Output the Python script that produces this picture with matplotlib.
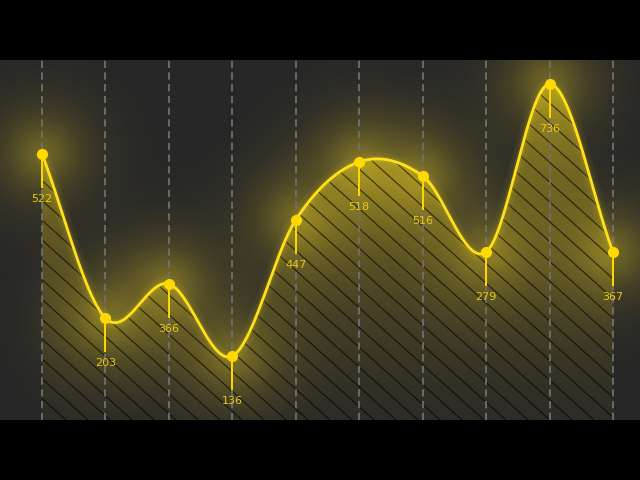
import numpy as np
import matplotlib
matplotlib.use('Agg')
import matplotlib.pyplot as plt
from matplotlib.patches import PathPatch
from matplotlib.path import Path
from matplotlib.collections import LineCollection

labels = [522, 203, 366, 136, 447, 518, 516, 279, 736, 367]
heights = [73.9, 28.3, 37.8, 17.8, 55.6, 71.7, 67.8, 46.7, 93.3, 46.7]

LINE = '#ffe11a'
DOT = '#ffd900'
TXT = '#e8c81c'


def catmull_rom(ys, n=60):
    ys = np.asarray(ys, float)
    xs = np.arange(len(ys), dtype=float)
    py = np.concatenate([[2 * ys[0] - ys[1]], ys, [2 * ys[-1] - ys[-2]]])
    ox, oy = [], []
    for i in range(len(ys) - 1):
        p0, p1, p2, p3 = py[i], py[i + 1], py[i + 2], py[i + 3]
        m1 = (p2 - p0) / 2.0
        m2 = (p3 - p1) / 2.0
        t = np.linspace(0, 1, n, endpoint=(i == len(ys) - 2))
        h00 = 2 * t**3 - 3 * t**2 + 1
        h10 = t**3 - 2 * t**2 + t
        h01 = -2 * t**3 + 3 * t**2
        h11 = t**3 - t**2
        oy.append(h00 * p1 + h10 * m1 + h01 * p2 + h11 * m2)
        ox.append(xs[i] + t)
    return np.concatenate(ox), np.concatenate(oy)


x = np.arange(len(heights))
xs, ys = catmull_rom(heights)

fig = plt.figure(figsize=(6.4, 4.8), dpi=100, facecolor='black')
ax = fig.add_axes([0, 0.125, 1, 0.75])
x0, x1 = -0.662, 9.426
ax.set_xlim(x0, x1)
ax.set_ylim(0, 100)
ax.axis('off')
ax.add_patch(plt.Rectangle((0, 0), 1, 1, transform=ax.transAxes,
                           facecolor='#272727', edgecolor='none', zorder=0))

# gradient fill under the curve
verts = np.column_stack([np.concatenate([xs, [xs[-1], xs[0]]]),
                         np.concatenate([ys, [0, 0]])])
path = Path(verts, closed=False)
clip = PathPatch(path, transform=ax.transData, facecolor='none', edgecolor='none')
ax.add_patch(clip)
gy = np.linspace(0, 1, 256)[:, None]
grad = np.zeros((256, 2, 4))
grad[..., 0] = 1.0
grad[..., 1] = 0.86
grad[..., 2] = 0.1
grad[..., 3] = (0.03 + 0.48 * gy ** 1.2) * np.ones((1, 2))
im = ax.imshow(grad, extent=[x0, x1, 0, 100], origin='lower', aspect='auto',
               zorder=1, interpolation='bilinear')
im.set_clip_path(clip)

# glow around points
gx = np.linspace(x0, x1, 640)
gyy = np.linspace(0, 100, 360)
GX, GY = np.meshgrid(gx, gyy)
glow = np.zeros_like(GX)
for xi, hi in zip(x, heights):
    dx = (GX - xi) * 63.44
    dy = (GY - hi) * 3.6
    r2 = dx ** 2 + dy ** 2
    glow += 0.5 * np.exp(-r2 / (2 * 20 ** 2)) + 0.6 * np.exp(-r2 / (2 * 42 ** 2))
gimg = np.zeros(GX.shape + (4,))
gimg[..., 0] = 1.0
gimg[..., 1] = 0.88
gimg[..., 2] = 0.15
gimg[..., 3] = np.clip(glow * 0.3, 0, 0.42)
ax.imshow(gimg, extent=[x0, x1, 0, 100], origin='lower', aspect='auto',
          zorder=2, interpolation='bilinear')

# hatch (decorative diagonal lines, clipped to the filled area)
W, H = 640.0, 360.0
slope = 0.9
spacing = 22.0
segs = []
for c in np.arange(-H / slope, W + spacing, spacing):
    segs.append([(c / W, 1.0), ((c + H / slope) / W, 0.0)])
lc = LineCollection(segs, colors=[(0, 0, 0, 0.6)], linewidths=0.9,
                    transform=ax.transAxes, zorder=3)
ax.add_collection(lc)
lc.set_clip_path(clip)

# dashed vertical grid
for xi in x:
    ax.axvline(xi, color='#707070', lw=1.3, ls=(0, (4, 2.5)), zorder=4)

# curve with glow
ax.plot(xs, ys, color=LINE, lw=10, alpha=0.05, zorder=5, solid_capstyle='round')
ax.plot(xs, ys, color=LINE, lw=5, alpha=0.10, zorder=5, solid_capstyle='round')
ax.plot(xs, ys, color=LINE, lw=2.0, zorder=6, solid_capstyle='round')

# stems, dots, labels
for xi, hi, lab in zip(x, heights, labels):
    ax.plot([xi, xi], [hi, hi - 33 / 3.6], color=DOT, lw=1.4, zorder=6)
    ax.text(xi, hi - 45 / 3.6, str(lab), color=TXT, fontsize=8,
            ha='center', va='center', zorder=8, family='DejaVu Sans')
ax.plot(x, heights, 'o', color=DOT, ms=8, zorder=7, mec='none')

fig.savefig('out.png', dpi=100, facecolor='black')
